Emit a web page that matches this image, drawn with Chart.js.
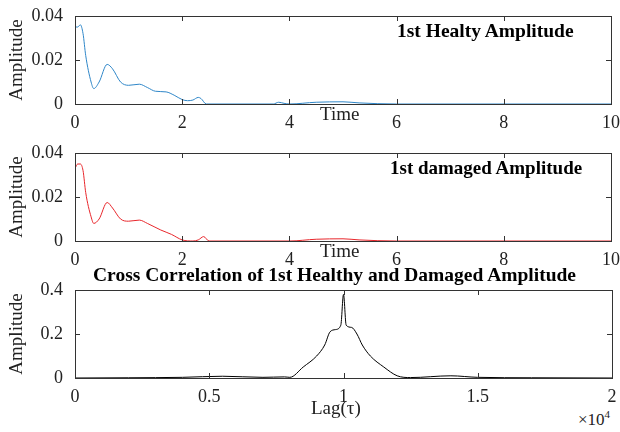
<!DOCTYPE html>
<html><head><meta charset="utf-8">
<script src="https://cdn.jsdelivr.net/npm/chart.js@4/dist/chart.umd.min.js"></script>
<style>
body{margin:0;background:#fff;width:620px;height:432px;position:relative;overflow:hidden;font-family:"Liberation Serif",serif;}
.p{position:absolute;left:0;width:620px;height:130px;}
.t{position:absolute;font-family:"Liberation Serif",serif;color:#000;white-space:nowrap;}
</style></head><body>
<div class="p" style="top:0"><canvas id="c1"></canvas></div>
<div class="p" style="top:137px"><canvas id="c2"></canvas></div>
<div class="p" style="top:274px"><canvas id="c3"></canvas></div>
<div class="t" style="left:397px;top:20px;font-weight:bold;font-size:19.5px">1st Healty Amplitude</div>
<div class="t" style="left:320px;top:103px;font-size:19px;color:#222">Time</div>
<div class="t" style="left:390px;top:157px;font-weight:bold;font-size:19px">1st damaged Amplitude</div>
<div class="t" style="left:320px;top:240px;font-size:19px;color:#222">Time</div>
<div class="t" style="left:93px;top:264px;font-weight:bold;font-size:19.5px">Cross Correlation of 1st Healthy and Damaged Amplitude</div>
<div class="t" style="left:311px;top:397px;font-size:19px;color:#222">Lag(τ)</div>
<div class="t" style="left:578px;top:408px;font-size:17px;color:#222">×10<sup style="font-size:11px">4</sup></div>
<script>
// Данные
const timeH = [0,0.05,0.1,0.15,0.2,0.3,0.35,0.45,0.6,0.7,0.85,1.0,1.2,1.35,1.5,1.7,1.85,2.0,2.1,2.2,2.3,2.35,2.45,2.5,3.7,3.8,3.9,4.0,4.5,5.0,5.3,6,10];
const healthy = [0.035,0.035,0.036,0.032,0.022,0.010,0.007,0.010,0.018,0.016,0.010,0.0085,0.009,0.0075,0.0058,0.0055,0.004,0.002,0.0015,0.0018,0.003,0.0025,0,0,0,0.0008,0.0003,0,0.0008,0.001,0.0005,0,0];
const timeD = [0,0.05,0.1,0.15,0.2,0.3,0.35,0.45,0.6,0.7,0.85,1.0,1.2,1.35,1.6,1.8,2.0,2.2,2.3,2.4,2.5,4.0,4.5,5.0,5.3,6,10];
const damaged = [0.033,0.035,0.035,0.032,0.022,0.011,0.008,0.010,0.0175,0.015,0.010,0.009,0.0095,0.008,0.005,0.003,0.0005,0,0.0005,0.002,0,0,0.0008,0.001,0.0005,0,0];
const lags = [0,2000,4000,5500,7000,7800,8000,8500,9000,9300,9500,9700,9900,10000,10100,10300,10500,10700,11000,11500,12000,12500,14000,15000,17000,20000];
const xcorr = [0,0.001,0.003,0.008,0.003,0.005,0.003,0.05,0.1,0.15,0.21,0.22,0.24,0.38,0.24,0.23,0.2,0.15,0.1,0.05,0.01,0.002,0.01,0.003,0.001,0];

const box = {
  id:'box',
  afterDraw(c){
    const a=c.chartArea, x=c.ctx;
    x.save(); x.strokeStyle='#333'; x.lineWidth=1;
    x.strokeRect(a.left+0.5,a.top+0.5,a.right-a.left,a.bottom-a.top);
    c.scales.x.ticks.forEach(t=>{const p=Math.round(c.scales.x.getPixelForValue(t.value))+0.5;
      x.beginPath();x.moveTo(p,a.bottom);x.lineTo(p,a.bottom-5);x.moveTo(p,a.top);x.lineTo(p,a.top+5);x.stroke();});
    c.scales.y.ticks.forEach(t=>{const p=Math.round(c.scales.y.getPixelForValue(t.value))+0.5;
      x.beginPath();x.moveTo(a.left,p);x.lineTo(a.left+5,p);x.moveTo(a.right,p);x.lineTo(a.right-5,p);x.stroke();});
    x.restore();
  }
};

function panel(id, xs, ys, color, xmax, xstep, ymax, ystep, xfmt){
  new Chart(document.getElementById(id), {
    type:'line',
    data:{datasets:[{data:xs.map((v,i)=>({x:v,y:ys[i]})),borderColor:color,borderWidth:1,pointRadius:0,cubicInterpolationMode:'monotone'}]},
    options:{
      responsive:true,maintainAspectRatio:false,animation:false,
      layout:{padding:{top:16,right:8,left:6,bottom:0}},
      plugins:{legend:{display:false},tooltip:{enabled:false}},
      scales:{
        x:{type:'linear',min:0,max:xmax,grid:{display:false},border:{display:false},
           ticks:{stepSize:xstep,color:'#222',font:{family:'Liberation Serif',size:18},padding:0,maxRotation:0,callback:xfmt},
           afterFit(s){s.height=26;}},
        y:{min:0,max:ymax,grid:{display:false},border:{display:false},
           title:{display:true,text:'Amplitude',color:'#222',font:{family:'Liberation Serif',size:19},padding:0},
           ticks:{stepSize:ystep,color:'#222',font:{family:'Liberation Serif',size:18},padding:4,callback:v=>v===0?'0':String(+v.toFixed(2))},
           afterFit(s){s.width=69;}}
      }
    },
    plugins:[box]
  });
}
panel('c1',timeH,healthy,'#2e86c8',10,2,0.04,0.02);
panel('c2',timeD,damaged,'#e8262b',10,2,0.04,0.02);
panel('c3',lags,xcorr,'#000',20000,5000,0.4,0.2,v=>String(v/10000));
</script>
</body></html>
